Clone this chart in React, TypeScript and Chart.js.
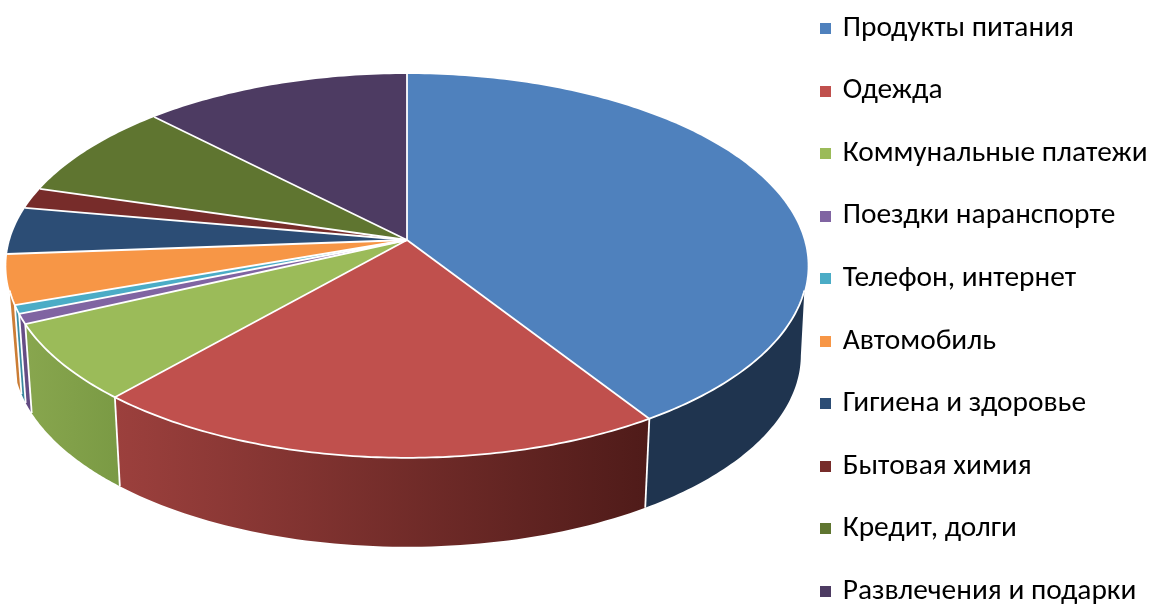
import React, { useEffect, useRef } from "react";
import { Chart, registerables } from "chart.js";

Chart.register(...registerables);

const categories = [
  "Продукты питания",
  "Одежда",
  "Коммунальные платежи",
  "Поездки наранспорте",
  "Телефон, интернет",
  "Автомобиль",
  "Гигиена и здоровье",
  "Бытовая химия",
  "Кредит, долги",
  "Развлечения и подарки",
];
const shares = [40.9, 20.6, 6.58, 0.84, 0.72, 4.19, 3.96, 1.76, 8.15, 12.3];
const topColors = ["#4F81BD", "#C0504D", "#9BBB59", "#8064A2", "#4BACC6", "#F79646", "#2C4D75", "#772C2A", "#5F7530", "#4D3B62"];
const wallLeft = ["#1F344F", "#9C403D", "#88A64E", "#6A5189", "#3F93A9", "#D08038", "#1F344F", "#4F1B19", "#3F4E20", "#33273F"];
const wallRight = ["#1F344F", "#4F1B19", "#7A9A44", "#5F4880", "#37839A", "#C87A32", "#1F344F", "#4F1B19", "#3F4E20", "#33273F"];

const CX = 407, CY = 240, RX = 397, A = 156, C = 0.135, DEPTH = 89, SHRINK = 0.983;
const rad = (d: number) => (d * Math.PI) / 180;
const VIS_START = rad(105), VIS_END = rad(255);
const LOW_START = rad(98), LOW_END = rad(254);

function top(theta: number): [number, number] {
  const u = Math.sin(theta), v = -Math.cos(theta);
  const w = 1 - C * v;
  return [CX + (RX * u) / w, (A * v + CY) / w];
}
function bottom(theta: number): [number, number] {
  const [x, y] = top(theta);
  return [CX + (x - CX) * SHRINK, y + DEPTH];
}

function swatch(color: string) {
  const c = document.createElement("canvas");
  c.width = 11;
  c.height = 11;
  const g = c.getContext("2d")!;
  g.fillStyle = color;
  g.fillRect(0, 0, 11, 11);
  return c;
}

const pie3d = {
  id: "pie3d",
  afterLayout(chart: any) {
    const lg = chart.legend;
    lg.maxHeight = 2000;
    lg.fit();
    const w = lg.width, h = lg.height;
    lg.left = 789.85; lg.right = lg.left + w;
    lg.top = -19.35; lg.bottom = lg.top + h;
  },
  beforeDatasetDraw(chart: any) {
    const ctx = chart.ctx;
    const arcs = chart.getDatasetMeta(0).data;
    const slices = arcs.map((a: any, i: number) => ({
      a: a.startAngle + Math.PI / 2,
      b: a.endAngle + Math.PI / 2,
      i,
    }));
    ctx.save();
    ctx.lineJoin = "round";
    // side walls
    slices.forEach(({ a, b, i }: any) => {
      const s = Math.max(a, VIS_START), e = Math.min(b, VIS_END);
      if (e <= s) return;
      const s2 = Math.max(a, LOW_START), e2 = Math.min(b, LOW_END);
      const n = 60;
      const pts: [number, number][] = [];
      for (let k = 0; k <= n; k++) pts.push(top(s + ((e - s) * k) / n));
      for (let k = n; k >= 0; k--) pts.push(bottom(s2 + ((Math.max(e2, s2) - s2) * k) / n));
      const xs = pts.map((p) => p[0]);
      const g = ctx.createLinearGradient(Math.min(...xs), 0, Math.max(...xs), 0);
      g.addColorStop(0, wallLeft[i]);
      g.addColorStop(1, wallRight[i]);
      ctx.beginPath();
      pts.forEach((p, k) => (k ? ctx.lineTo(p[0], p[1]) : ctx.moveTo(p[0], p[1])));
      ctx.closePath();
      ctx.fillStyle = g;
      ctx.fill();
    });
    // wall separators
    ctx.strokeStyle = "#fff";
    ctx.lineWidth = 1.8;
    slices.forEach(({ a }: any) => {
      if (a <= VIS_START || a >= VIS_END) return;
      const p = top(a), q = bottom(a);
      ctx.beginPath();
      ctx.moveTo(p[0], p[1]);
      ctx.lineTo(q[0], q[1]);
      ctx.stroke();
    });
    // top faces
    slices.forEach(({ a, b, i }: any) => {
      const n = Math.max(4, Math.ceil((b - a) * 60));
      ctx.beginPath();
      ctx.moveTo(CX, CY);
      for (let k = 0; k <= n; k++) {
        const p = top(a + ((b - a) * k) / n);
        ctx.lineTo(p[0], p[1]);
      }
      ctx.closePath();
      ctx.fillStyle = topColors[i];
      ctx.fill();
    });
    // white edges between the slices and along the front rim
    slices.forEach(({ a }: any) => {
      const p = top(a);
      ctx.beginPath();
      ctx.moveTo(CX, CY);
      ctx.lineTo(p[0], p[1]);
      ctx.stroke();
    });
    ctx.beginPath();
    for (let k = 0; k <= 200; k++) {
      const p = top(VIS_START + ((VIS_END - VIS_START) * k) / 200);
      k ? ctx.lineTo(p[0], p[1]) : ctx.moveTo(p[0], p[1]);
    }
    ctx.stroke();
    ctx.restore();
    return false;
  },
};

export default function App() {
  const ref = useRef<HTMLCanvasElement>(null);
  useEffect(() => {
    document.body.style.margin = "0";
    const chart = new Chart(ref.current!, {
      type: "pie",
      data: {
        labels: categories,
        datasets: [{ data: shares, backgroundColor: topColors, borderWidth: 0 }],
      },
      options: {
        responsive: false,
        animation: false,
        plugins: {
          tooltip: { enabled: false },
          legend: {
            position: "right",
            align: "start",
            labels: {
              usePointStyle: true,
              pointStyleWidth: 5,
              boxWidth: 11,
              boxHeight: 11,
              padding: 33.15,
              color: "#000",
              font: { family: "Carlito, Lato, 'Open Sans', sans-serif", size: 29.4, lineHeight: 1.15 },
              generateLabels: () =>
                categories.map((text, index) => ({
                  text,
                  index,
                  fillStyle: topColors[index],
                  strokeStyle: topColors[index],
                  lineWidth: 0,
                  fontColor: "#000",
                  pointStyle: swatch(topColors[index]),
                  hidden: false,
                })),
            },
          },
        },
      },
      plugins: [pie3d],
    } as any);
    return () => chart.destroy();
  }, []);
  return <canvas ref={ref} width={1154} height={604} style={{ display: "block" }} />;
}
